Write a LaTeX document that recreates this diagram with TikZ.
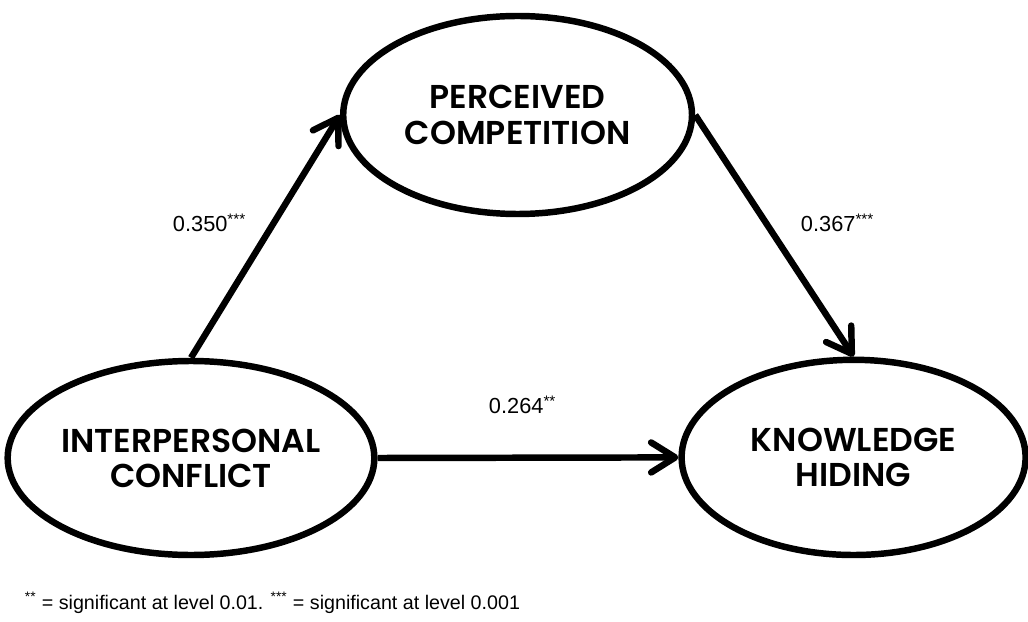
\documentclass[tikz,border=0pt]{standalone}
\usepackage{fontspec}
\setmainfont{Liberation Sans}
\newfontfamily\boxfont[BoldFont={Poppins SemiBold}]{Poppins}
\usetikzlibrary{arrows.meta, shapes.geometric}

\begin{document}
\begin{tikzpicture}[>={Straight Barb[length=6mm, width=7.5mm, round]},
  construct/.style={ellipse, draw, line width=4.6pt, inner sep=0pt, align=center,
    font=\boxfont\bfseries\fontsize{23.5}{25}\selectfont},
  link/.style={->, line width=4.6pt},
  coef/.style={anchor=base west, font=\fontsize{15.5}{18}\selectfont}]
  \useasboundingbox (0,0) rectangle (25.7,15.525);
  % Constructs
  \node[construct, minimum width=8.72cm, minimum height=4.95cm] (pc) at (12.94,12.65) {PERCEIVED\\COMPETITION};
  \node[construct, minimum width=8.8cm, minimum height=4.85cm] (ic) at (4.775,4.075) {INTERPERSONAL\\CONFLICT};
  \node[construct, minimum width=8.6cm, minimum height=4.88cm] (kh) at (21.34,4.09) {KNOWLEDGE\\HIDING};
  % Paths
  \draw[link] (ic.north) -- (pc.west);
  \draw[link] (pc.east) -- (kh.north);
  \draw[link] (ic.east) -- (kh.west);
  % Coefficients
  \node[coef] (c1) at (4.2,9.74) {0.350\textsuperscript{***}};
  \node[coef] (c2) at (19.9,9.74) {0.367\textsuperscript{***}};
  \node[coef] (c3) at (12.1,5.19) {0.264\textsuperscript{**}};
  % Note
  \node[anchor=base west, font=\fontsize{14}{17}\selectfont] (note) at (0.5,0.3)
    {\textsuperscript{**} = significant at level 0.01. \textsuperscript{***} = significant at level 0.001};
\end{tikzpicture}
\end{document}
